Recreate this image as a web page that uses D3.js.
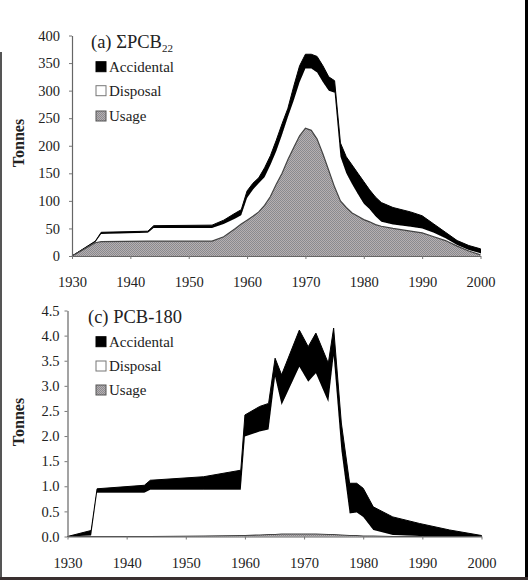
<!DOCTYPE html>
<html><head><meta charset="utf-8">
<script src="https://cdn.jsdelivr.net/npm/d3@7"></script>
<style>
html,body{margin:0;padding:0;background:#fff;}
svg{display:block;}
text{font-family:"Liberation Serif","Times New Roman",serif;fill:#222;}
</style></head>
<body>
<svg id="c" width="528" height="580"></svg>
<script>
// ---- Panel (a) ΣPCB22 ----
const yearsA = [1930,1934,1935,1943,1944,1954,1956,1958,1959,1960,1961,1962,1963,1964,1965,1966,1967,1968,1969,1970,1971,1972,1973,1974,1975,1976,1977,1978,1979,1980,1981,1982,1983,1985,1988,1990,1992,1994,1996,1998,2000];
const usageTopA =    [0,24,26,27,27,27,35,50,58,65,72,80,92,108,130,150,175,197,218,232,228,212,185,155,125,100,88,78,72,66,62,57,54,50,45,42,35,28,18,9,2];
const disposalTopA = [0,25,40,42,51,51,58,68,74,105,120,132,143,165,190,220,252,282,315,340,340,333,315,300,296,180,150,130,112,95,85,72,62,57,53,50,42,32,20,11,5];
const totalA =       [0,27,43,45,55,56,65,78,84,118,132,142,160,182,210,240,268,308,345,366,366,362,345,325,318,205,180,165,150,135,120,107,97,88,80,73,58,43,28,19,13];
const yTicksA = [0,50,100,150,200,250,300,350,400];

// ---- Panel (c) PCB-180 ----
const yearsC = [1930,1934,1935,1943,1944,1953,1959.3,1960,1962.5,1964,1965.1,1966.2,1969.2,1970.7,1972,1974.1,1975,1976.3,1977.7,1978.9,1980,1981.7,1985,1989.5,1994.6,2000];
const usageTopC =    [0,0,0,0,0,0.01,0.02,0.02,0.03,0.04,0.04,0.05,0.05,0.05,0.05,0.04,0.04,0.03,0.02,0.02,0.01,0.01,0,0,0,0];
const disposalTopC = [0,0.02,0.87,0.87,0.93,0.93,0.93,1.99,2.09,2.13,3.18,2.62,3.38,3.08,3.25,2.68,3.6,1.72,0.46,0.48,0.39,0.13,0.03,0.01,0,0];
const totalC =       [0,0.12,0.95,1.02,1.12,1.19,1.32,2.42,2.59,2.65,3.55,3.22,4.11,3.78,4.05,3.45,4.15,2.26,1.06,1.06,0.96,0.59,0.39,0.26,0.13,0.02];
const yTicksC = [0,0.5,1.0,1.5,2.0,2.5,3.0,3.5,4.0,4.5];

const xTicks = [1930,1940,1950,1960,1970,1980,1990,2000];
const seriesNames = ["Accidental","Disposal","Usage"];

const svg = d3.select("#c");
const defs = svg.append("defs");
const pat = defs.append("pattern").attr("id","dither").attr("width",2).attr("height",2).attr("patternUnits","userSpaceOnUse");
pat.append("rect").attr("width",2).attr("height",2).attr("fill","#b4b0b4");
pat.append("rect").attr("width",1).attr("height",1).attr("fill","#8a8a8e");
pat.append("rect").attr("x",1).attr("y",1).attr("width",1).attr("height",1).attr("fill","#8e8a8a");

// scan borders
svg.append("rect").attr("x",0).attr("y",52).attr("width",2).attr("height",528).attr("fill","#555");
svg.append("rect").attr("x",525).attr("y",0).attr("width",3).attr("height",580).attr("fill","#000");
svg.append("rect").attr("x",0).attr("y",577).attr("width",528).attr("height",3).attr("fill","#3a3030");

function panel(cfg){
  const {years, uTop, dTop, tot, yTicks, xr, yr, ydom, fmt, title, sub, legendY, axisTitleY} = cfg;
  const x = d3.scaleLinear().domain([1930,2000]).range(xr);
  const y = d3.scaleLinear().domain(ydom).range(yr);
  const rows = years.map((yr_,i)=>({year:yr_, usage:uTop[i], disposal:dTop[i]-uTop[i], accidental:tot[i]-dTop[i]}));
  const stack = d3.stack().keys(["usage","disposal","accidental"])(rows);
  const area = d3.area().x(d=>x(d.data.year)).y0(d=>y(d[0])).y1(d=>y(d[1]));
  const g = svg.append("g");
  g.append("path").datum(stack[2]).attr("d",area).attr("fill","#000").attr("stroke","#000").attr("stroke-width",1);
  g.append("path").datum(stack[1]).attr("d",area).attr("fill","#fff").attr("stroke","none");
  g.append("path").datum(stack[0]).attr("d",area).attr("fill","url(#dither)").attr("stroke","none");
  const topLine = d3.line().x(d=>x(d.data.year)).y(d=>y(d[1]));
  g.append("path").datum(stack[0]).attr("d",topLine).attr("fill","none").attr("stroke","#444").attr("stroke-width",1.2);

  const ya = d3.axisLeft(y).tickValues(yTicks).tickFormat(fmt).tickSize(3).tickSizeOuter(0).tickPadding(cfg.yPad);
  const ga = svg.append("g").attr("transform",`translate(${xr[0]},0)`).call(ya);
  const xa = d3.axisBottom(x).tickValues(xTicks).tickFormat(d3.format("d")).tickSize(3).tickSizeOuter(0).tickPadding(18);
  const gb = svg.append("g").attr("transform",`translate(0,${yr[0]})`).call(xa);
  [ga,gb].forEach(a=>{
    a.select(".domain").attr("stroke","#666").attr("stroke-width",1.2);
    a.selectAll(".tick line").attr("stroke","#777");
    a.selectAll(".tick text").attr("font-family","Liberation Serif, serif").attr("font-size",14.5).attr("fill","#222");
  });

  svg.append("text").attr("transform",`translate(24,${axisTitleY}) rotate(-90)`).attr("text-anchor","middle")
    .attr("font-size",16).attr("font-weight","bold").text("Tonnes");

  const t = svg.append("text").attr("x",cfg.titleX).attr("y",cfg.titleY).attr("font-size",18.5);
  t.append("tspan").text(title);
  if(sub) t.append("tspan").attr("font-size",11).attr("dy",4).text(sub);

  const fills = ["#000","#fff","url(#dither)"];
  const strokes = ["#000","#777","#555"];
  seriesNames.forEach((n,i)=>{
    const cy = legendY[i];
    svg.append("rect").attr("x",96).attr("y",cy-5).attr("width",10).attr("height",10)
      .attr("fill",fills[i]).attr("stroke",strokes[i]).attr("stroke-width",1);
    svg.append("text").attr("x",109).attr("y",cy+5).attr("font-size",15).text(n);
  });
}

panel({years:yearsA, uTop:usageTopA, dTop:disposalTopA, tot:totalA, yTicks:yTicksA,
  xr:[72,480.5], yr:[256,35.5], ydom:[0,400], fmt:d3.format("d"), yPad:9,
  title:"(a) ΣPCB", sub:"22", titleX:91, titleY:48, legendY:[66.7,90.7,116], axisTitleY:143});
panel({years:yearsC, uTop:usageTopC, dTop:disposalTopC, tot:totalC, yTicks:yTicksC,
  xr:[67.5,481.5], yr:[536.5,310.5], ydom:[0,4.5], fmt:d3.format(".1f"), yPad:5,
  title:"(c) PCB-180", sub:null, titleX:88, titleY:323, legendY:[341.7,366,390], axisTitleY:422});
</script>
</body></html>
